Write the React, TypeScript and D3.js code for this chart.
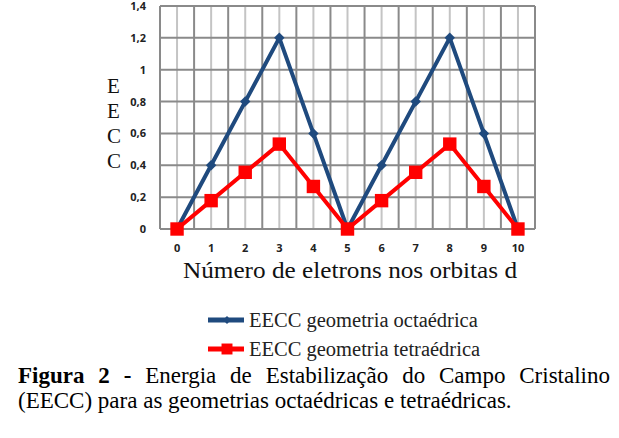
import React from "react";
import * as d3 from "d3";

const categories = ["0", "1", "2", "3", "4", "5", "6", "7", "8", "9", "10"];
const octaedrica = [0, 0.4, 0.8, 1.2, 0.6, 0, 0.4, 0.8, 1.2, 0.6, 0];
const tetraedrica = [0, 0.178, 0.356, 0.533, 0.267, 0, 0.178, 0.356, 0.533, 0.267, 0];
const yTicks = [0, 0.2, 0.4, 0.6, 0.8, 1, 1.2, 1.4];
const seriesNames = ["EECC geometria octaédrica", "EECC geometria tetraédrica"];
const xTitle = "Número de eletrons nos orbitas d";
const yTitle = ["E", "E", "C", "C"];

const BLUE = "#1f4a7e";
const RED = "#ff0000";
const DARK = "#8a8a8a";
const LIGHT = "#c4c4c4";
const SERIF = "Liberation Serif, Times New Roman, Times, serif";
const SANS = "Open Sans, Liberation Sans, sans-serif";

export default function App() {
  const x = d3.scaleBand<string>().domain(categories).range([160, 535]).paddingInner(0).paddingOuter(0);
  const y = d3.scaleLinear().domain([0, 1.4]).range([229, 6]);
  const cx = (c: string) => (x(c) as number) + x.bandwidth() / 2;
  const fmt = (v: number) => String(v).replace(".", ",");

  const line = d3
    .line<number>()
    .x((_, i) => cx(categories[i]))
    .y((d) => y(d));

  const diamond = d3.symbol().type(d3.symbolDiamond2).size(70)();
  const square = d3.symbol().type(d3.symbolSquare).size(180)();
  const legDiamond = d3.symbol().type(d3.symbolDiamond2).size(40)();
  const legSquare = d3.symbol().type(d3.symbolSquare).size(120)();

  const [x0, x1] = x.range();
  const [yb, yt] = y.range();

  return (
    <div style={{ position: "absolute", left: 0, top: 0, width: 619, height: 438, background: "#fff" }}>
      <svg width={619} height={438} style={{ position: "absolute", left: 0, top: 0 }}>
        {categories.map((c) => (
          <line key={"vl" + c} x1={cx(c)} x2={cx(c)} y1={yt} y2={yb} stroke={LIGHT} strokeWidth={2} />
        ))}
        {categories.map((c) => (
          <line key={"vd" + c} x1={x(c) as number} x2={x(c) as number} y1={yt} y2={yb} stroke={DARK} strokeWidth={2} />
        ))}
        <line x1={x1} x2={x1} y1={yt} y2={yb} stroke={DARK} strokeWidth={2} />
        {yTicks.map((t) => (
          <line key={"h" + t} x1={x0} x2={x1} y1={y(t)} y2={y(t)} stroke={DARK} strokeWidth={2} />
        ))}
        {yTicks.map((t) => (
          <text key={"yt" + t} x={146} y={y(t) + 4} textAnchor="end" fontFamily={SANS} fontSize={11} fontWeight={700} fill="#222">
            {fmt(t)}
          </text>
        ))}
        {categories.map((c) => (
          <text key={"xt" + c} x={cx(c)} y={252} textAnchor="middle" fontFamily={SANS} fontSize={11} fontWeight={700} fill="#222">
            {c}
          </text>
        ))}
        <text x={350} y={278} textAnchor="middle" fontFamily={SERIF} fontSize={23} textLength={334} lengthAdjust="spacingAndGlyphs" fill="#111">
          {xTitle}
        </text>
        {yTitle.map((ch, i) => (
          <text key={"ytl" + i} x={107} y={93 + i * 25} fontFamily={SERIF} fontSize={21} fill="#111">
            {ch}
          </text>
        ))}
        <path d={line(octaedrica) as string} fill="none" stroke={BLUE} strokeWidth={4} strokeLinejoin="round" />
        {octaedrica.map((v, i) => (
          <path key={"d" + i} d={diamond as string} transform={`translate(${cx(categories[i])},${y(v)})`} fill={BLUE} />
        ))}
        <path d={line(tetraedrica) as string} fill="none" stroke={RED} strokeWidth={4} strokeLinejoin="round" />
        {tetraedrica.map((v, i) => (
          <path key={"s" + i} d={square as string} transform={`translate(${cx(categories[i])},${y(v)})`} fill={RED} />
        ))}
        {[BLUE, RED].map((col, i) => {
          const ly = 320 + i * 29;
          return (
            <g key={"lg" + i}>
              <line x1={208} x2={244} y1={ly} y2={ly} stroke={col} strokeWidth={5} />
              <path d={(i === 0 ? legDiamond : legSquare) as string} transform={`translate(227,${ly})`} fill={col} />
              <text x={249} y={ly + 7} fontFamily={SERIF} fontSize={20.5} fill="#222">
                {seriesNames[i]}
              </text>
            </g>
          );
        })}
      </svg>
      <div
        style={{
          position: "absolute",
          left: 18,
          top: 363,
          width: 592,
          fontFamily: SERIF,
          fontSize: 23,
          lineHeight: "25px",
          textAlign: "justify",
          color: "#000",
        }}
      >
        <b>Figura 2 -</b> Energia de Estabilização do Campo Cristalino (EECC) para as geometrias octaédricas e tetraédricas.
      </div>
    </div>
  );
}
